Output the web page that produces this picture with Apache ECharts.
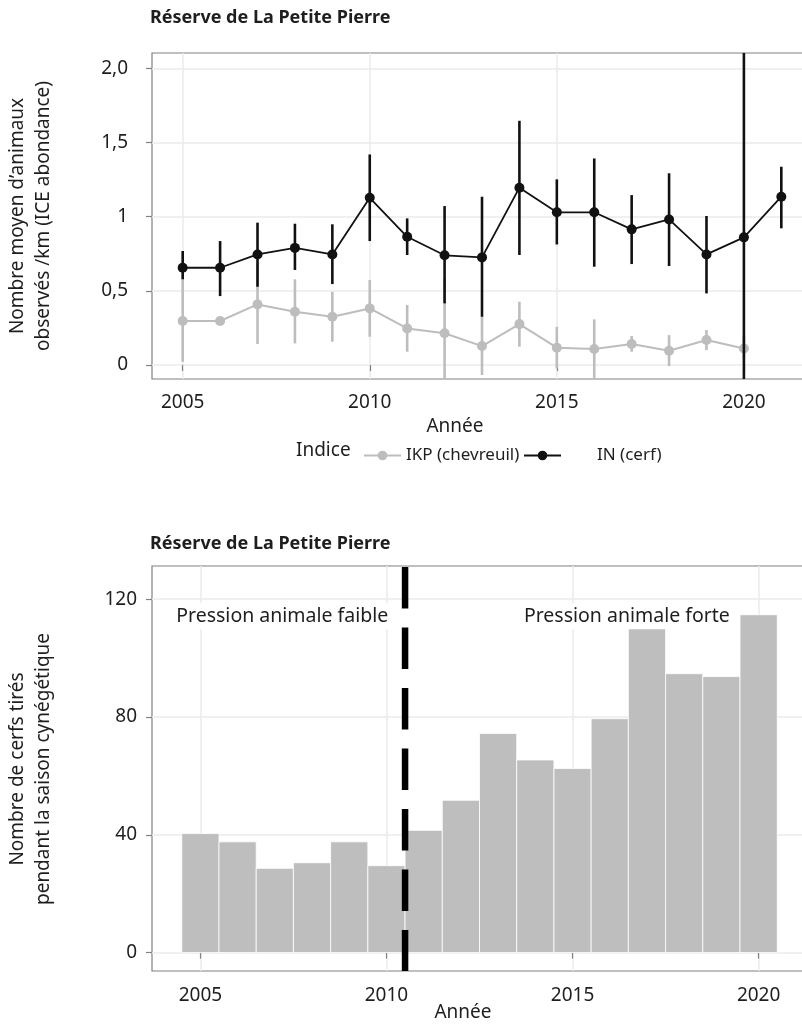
<!DOCTYPE html>
<html>
<head>
<meta charset="utf-8">
<script src="https://cdn.jsdelivr.net/npm/echarts/dist/echarts.min.js"></script>
<style>
html,body{margin:0;padding:0;overflow:hidden;background:#fff;}
#chart{width:830px;height:1024px;}
</style>
</head>
<body>
<div id="chart"></div>
<script>
// ---------- data ----------
const years = [2005,2006,2007,2008,2009,2010,2011,2012,2013,2014,2015,2016,2017,2018,2019,2020,2021];
const inVals  = [0.656,0.656,0.746,0.790,0.746,1.128,0.865,0.740,0.726,1.196,1.030,1.030,0.915,0.982,0.746,0.861,1.135];
const inLow   = [0.578,0.465,0.528,0.641,0.546,0.836,0.742,0.416,0.326,0.742,0.813,0.663,0.681,0.668,0.483,-0.40,0.922];
const inHigh  = [0.769,0.836,0.960,0.953,0.949,1.420,0.989,1.072,1.135,1.647,1.252,1.393,1.146,1.293,1.005,2.40,1.337];

const ikpYears = [2005,2006,2007,2008,2009,2010,2011,2012,2013,2014,2015,2016,2017,2018,2019,2020];
const ikpVals = [0.297,0.297,0.409,0.360,0.326,0.382,0.247,0.214,0.128,0.276,0.117,0.108,0.142,0.097,0.169,0.112];
const ikpLow  = [0.022,0.280,0.142,0.146,0.157,0.191,0.090,-0.120,-0.067,0.124,-0.022,-0.120,0.090,-0.007,0.101,0.045];
const ikpHigh = [0.578,0.310,0.686,0.578,0.494,0.573,0.405,0.585,0.330,0.427,0.258,0.308,0.196,0.202,0.236,0.196];

const barYears = [2005,2006,2007,2008,2009,2010,2011,2012,2013,2014,2015,2016,2017,2018,2019,2020];
const cerfsTires = [40.4,37.6,28.6,30.5,37.6,29.5,41.5,51.7,74.4,65.4,62.5,79.4,110.5,94.7,93.7,114.7];

const xTicks = [2005,2010,2015,2020];
const xLabels = ['2005','2010','2015','2020'];
const topYTicks = [0,0.5,1,1.5,2];
const topYLabels = ['0','0,5','1','1,5','2,0'];
const botYTicks = [0,40,80,120];
const botYLabels = ['0','40','80','120'];

const seuilAnnee = [2010.5];
const annotations = [[2007.2,114.2,'Pression animale faible'],[2016.46,114.2,'Pression animale forte']];

const chartTitle = 'Réserve de La Petite Pierre';
const xTitle = 'Année';
const topYTitle = ["Nombre moyen d’animaux","observés /km (ICE abondance)"];
const botYTitle = ["Nombre de cerfs tirés","pendant la saison cynégétique"];
const legendTitle = 'Indice';
const nameIKP = 'IKP (chevreuil)';
const nameIN = 'IN (cerf)';

// ---------- style ----------
const FONT = '"Noto Sans", "DejaVu Sans", sans-serif';
const TXT = '#1e1e1e';
const GRIDC = '#ebebeb';
const BORDER = '#808080';
const GREY = '#bdbdbd';
const BLACK = '#111111';

function lab(ticks, labels){
  return function(v){
    const i = ticks.findIndex(t => Math.abs(t - v) < 1e-6);
    return i >= 0 ? labels[i] : '';
  };
}

function xAxisCfg(gi, min, max, margin){
  return {
    type:'value', gridIndex:gi, min:min, max:max,
    axisLine:{show:false},
    axisTick:{show:true, customValues:xTicks, length:6, lineStyle:{color:BORDER, width:1.2}},
    axisLabel:{customValues:xTicks, formatter:lab(xTicks,xLabels), margin:margin, color:TXT, fontSize:19, fontFamily:FONT},
    splitLine:{show:true, lineStyle:{color:GRIDC, width:1.5}}
  };
}
function yAxisCfg(gi, min, max, ticks, labels, margin){
  return {
    type:'value', gridIndex:gi, min:min, max:max,
    axisLine:{show:false},
    axisTick:{show:true, customValues:ticks, length:6, lineStyle:{color:BORDER, width:1.2}},
    axisLabel:{customValues:ticks, formatter:lab(ticks,labels), margin:margin, color:TXT, fontSize:19, fontFamily:FONT},
    splitLine:{show:true, lineStyle:{color:GRIDC, width:1.5}}
  };
}

function errRender(color, width){
  return function(params, api){
    const x = api.value(0), lo = api.value(1), hi = api.value(2);
    const p1 = api.coord([x, hi]);
    const p2 = api.coord([x, lo]);
    const cs = params.coordSys;
    return {type:'line',
      shape:{x1:p1[0], y1:Math.max(p1[1], cs.y), x2:p2[0], y2:Math.min(p2[1], cs.y+cs.height)},
      style:{stroke:color, lineWidth:width}};
  };
}

const chart = echarts.init(document.getElementById('chart'), null, {renderer:'canvas'});

const option = {
  animation:false,
  backgroundColor:'#fff',
  textStyle:{fontFamily:FONT},
  grid:[
    {left:152, top:53, right:18, height:326, show:true, borderColor:BORDER, borderWidth:1.2, backgroundColor:'#fff', outerBoundsMode:'none', containLabel:false},
    {left:152, top:566, right:23, height:405, show:true, borderColor:BORDER, borderWidth:1.2, backgroundColor:'#fff', outerBoundsMode:'none', containLabel:false}
  ],
  xAxis:[
    xAxisCfg(0, 2004.18, 2021.82, 14),
    xAxisCfg(1, 2003.7, 2021.3, 15)
  ],
  yAxis:[
    yAxisCfg(0, -0.094, 2.104, topYTicks, topYLabels, 24),
    yAxisCfg(1, -6.25, 131.25, botYTicks, botYLabels, 15)
  ],
  legend:[
    {data:[nameIKP], left:358, top:442, itemWidth:37, itemHeight:12, itemGap:0, selectedMode:false,
     textStyle:{color:TXT, fontSize:17, fontFamily:FONT}},
    {data:[nameIN], left:518, top:442, itemWidth:37, itemHeight:12, itemGap:0, selectedMode:false,
     textStyle:{color:TXT, fontSize:17, fontFamily:FONT, padding:[0,0,0,31]}}
  ],
  graphic:[
    {type:'text', x:150, y:18, style:{text:chartTitle, fontSize:18, fontWeight:'bold', fontFamily:FONT, fill:TXT, align:'left', verticalAlign:'middle'}},
    {type:'text', x:150, y:544, style:{text:chartTitle, fontSize:18, fontWeight:'bold', fontFamily:FONT, fill:TXT, align:'left', verticalAlign:'middle'}},
    {type:'text', x:455, y:427, style:{text:xTitle, fontSize:19, fontFamily:FONT, fill:TXT, align:'center', verticalAlign:'middle'}},
    {type:'text', x:463, y:1013, style:{text:xTitle, fontSize:19, fontFamily:FONT, fill:TXT, align:'center', verticalAlign:'middle'}},
    {type:'text', x:18, y:216, rotation:Math.PI/2, style:{text:topYTitle[0], fontSize:19, fontFamily:FONT, fill:TXT, align:'center', verticalAlign:'middle'}},
    {type:'text', x:44, y:216, rotation:Math.PI/2, style:{text:topYTitle[1], fontSize:19, fontFamily:FONT, fill:TXT, align:'center', verticalAlign:'middle'}},
    {type:'text', x:18, y:769, rotation:Math.PI/2, style:{text:botYTitle[0], fontSize:19, fontFamily:FONT, fill:TXT, align:'center', verticalAlign:'middle'}},
    {type:'text', x:44, y:769, rotation:Math.PI/2, style:{text:botYTitle[1], fontSize:19, fontFamily:FONT, fill:TXT, align:'center', verticalAlign:'middle'}},
    {type:'text', x:296, y:451, style:{text:legendTitle, fontSize:19, fontFamily:FONT, fill:TXT, align:'left', verticalAlign:'middle'}}
  ],
  series:[
    {type:'custom', name:'errIKP', xAxisIndex:0, yAxisIndex:0, z:2,
     renderItem:errRender(GREY, 2.6), encode:{x:0, y:[1,2]},
     data: ikpYears.map((y,i)=>[y, ikpLow[i], ikpHigh[i]])},
    {type:'line', name:nameIKP, xAxisIndex:0, yAxisIndex:0, z:3,
     data: ikpYears.map((y,i)=>[y, ikpVals[i]]),
     symbol:'circle', symbolSize:10, showSymbol:true,
     lineStyle:{color:GREY, width:2}, itemStyle:{color:GREY}, color:GREY},
    {type:'custom', name:'errIN', xAxisIndex:0, yAxisIndex:0, z:4,
     renderItem:errRender(BLACK, 2.6), encode:{x:0, y:[1,2]},
     data: years.map((y,i)=>[y, inLow[i], inHigh[i]])},
    {type:'line', name:nameIN, xAxisIndex:0, yAxisIndex:0, z:5,
     data: years.map((y,i)=>[y, inVals[i]]),
     symbol:'circle', symbolSize:10, showSymbol:true,
     lineStyle:{color:BLACK, width:1.8}, itemStyle:{color:BLACK}, color:BLACK},
    {type:'custom', name:'bars', xAxisIndex:1, yAxisIndex:1, z:2,
     encode:{x:0, y:1},
     data: barYears.map((y,i)=>[y, cerfsTires[i]]),
     renderItem:function(params, api){
       const x = api.value(0), v = api.value(1);
       const p0 = api.coord([x-0.5, v]);
       const p1 = api.coord([x+0.5, 0]);
       return {type:'rect', shape:{x:p0[0], y:p0[1], width:p1[0]-p0[0], height:p1[1]-p0[1]},
         style:{fill:'#bebebe', stroke:'#ffffff', lineWidth:0.8}};
     }},
    {type:'custom', name:'seuil', xAxisIndex:1, yAxisIndex:1, z:6,
     encode:{x:0, y:1},
     data: seuilAnnee.map(v=>[v, 0]),
     renderItem:function(params, api){
       const p = api.coord([api.value(0), 0]);
       const cs = params.coordSys;
       return {type:'line', shape:{x1:p[0], y1:cs.y+1, x2:p[0], y2:cs.y+cs.height},
         style:{stroke:'#000', lineWidth:6.5, lineDash:[41.5,19], lineCap:'butt'}};
     }},
    {type:'custom', name:'annot', xAxisIndex:1, yAxisIndex:1, z:7,
     encode:{x:0, y:1},
     data: annotations,
     renderItem:function(params, api){
       const p = api.coord([api.value(0), api.value(1)]);
       const t = annotations[params.dataIndex][2];
       return {type:'text', x:p[0], y:p[1],
         style:{text:t, fontSize:19.5, fontFamily:FONT, fill:TXT, align:'center', verticalAlign:'middle',
           backgroundColor:'#fff', padding:[3,5]}};
     }}
  ]
};
chart.setOption(option);
</script>
</body>
</html>
